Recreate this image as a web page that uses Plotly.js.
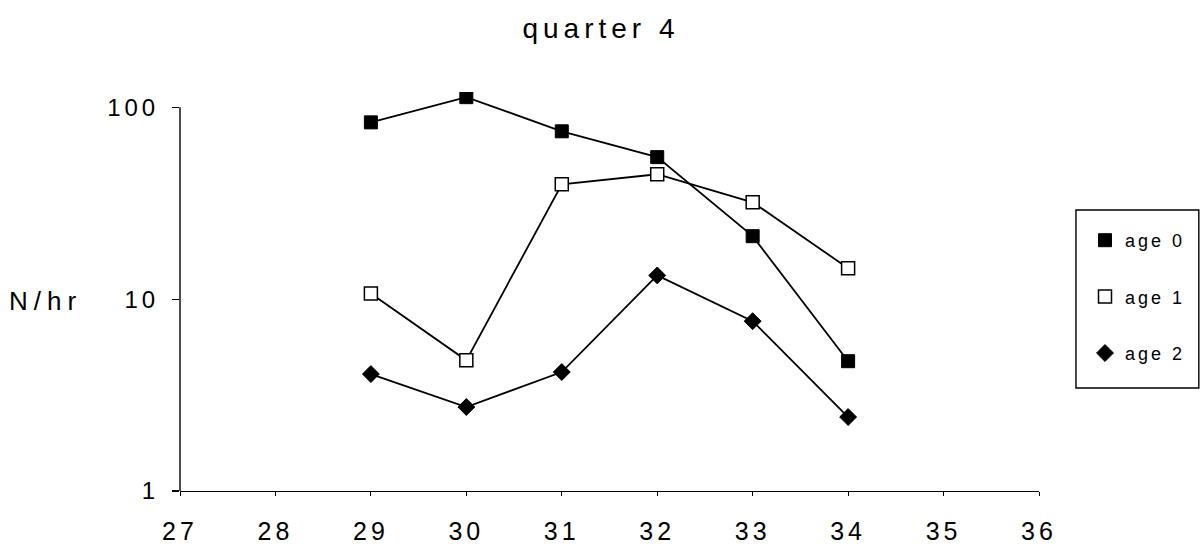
<!DOCTYPE html>
<html>
<head>
<meta charset="utf-8">
<script src="https://cdn.plot.ly/plotly-3.0.1.min.js"></script>
<style>
html,body{margin:0;padding:0;background:#fff;}
#chart{width:1202px;height:551px;}
.gtitle{letter-spacing:5px;}
.xtick text{letter-spacing:4px;}
.ytick text{letter-spacing:4px;}
.legendtext{letter-spacing:3px;}
.annotation-text{letter-spacing:6px;}
</style>
</head>
<body>
<div id="chart"></div>
<script>
const sections = [29, 30, 31, 32, 33, 34];
const age0 = [83.5, 113, 75, 55, 21.3, 4.75];
const age1 = [10.7, 4.8, 39.7, 44.8, 32, 14.5];
const age2 = [4.07, 2.74, 4.17, 13.3, 7.68, 2.43];
const xTicks = [27, 28, 29, 30, 31, 32, 33, 34, 35, 36];
const yTicks = [1, 10, 100];
const seriesNames = ['age 0', 'age 1', 'age 2'];

const lineStyle = {color: '#000', width: 1.8};
const markers = [
  {symbol: 'square', size: 13, color: '#000', line: {color: '#000', width: 1}},
  {symbol: 'square', size: 13, color: '#fff', line: {color: '#000', width: 1.5}},
  {symbol: 'diamond', size: 13, color: '#000', line: {color: '#000', width: 1}}
];
const series = [age0, age1, age2];

const traces = [];
series.forEach((ys, i) => {
  traces.push({x: sections, y: ys, type: 'scatter', mode: 'lines+markers',
    line: lineStyle, marker: markers[i], showlegend: false});
});
series.forEach((ys, i) => {
  traces.push({x: [null], y: [null], type: 'scatter', mode: 'markers',
    name: seriesNames[i], marker: markers[i], legendgroup: 'g' + i, showlegend: true});
});

const font = '"Liberation Sans", Arial, Helvetica, sans-serif';
const W = 1202, H = 551, L = 180, R = 162, B = 60, T = 92;
const pw = W - L - R, ph = H - T - B;
const yTop = 2.08;
const px = v => (v - L) / pw;        // pixel x -> paper
const py = v => (H - B - v) / ph;    // pixel y -> paper

const layout = {
  width: W, height: H,
  paper_bgcolor: '#fff', plot_bgcolor: '#fff',
  margin: {l: L, r: R, t: T, b: B},
  font: {family: font, color: '#000'},
  title: {text: 'quarter 4', font: {size: 28, family: font, color: '#000'},
    x: 601 / W, xanchor: 'center', y: 1 - 28 / H, yanchor: 'middle'},
  xaxis: {range: [27, 36], tickvals: xTicks, ticktext: xTicks.map(String),
    showgrid: false, zeroline: false, showline: true, linecolor: '#000', linewidth: 1.4,
    ticks: 'outside', ticklen: 4, tickcolor: '#000', tickwidth: 1,
    tickfont: {size: 25, family: font, color: '#000'}, ticklabelstandoff: 14},
  yaxis: {type: 'log', range: [0, yTop], tickvals: yTicks, ticktext: yTicks.map(String),
    showgrid: false, zeroline: false, showline: false,
    ticks: 'outside', ticklen: 7, tickcolor: '#000', tickwidth: 1.2,
    tickfont: {size: 24, family: font, color: '#000'}, ticklabelstandoff: 8},
  shapes: [
    {type: 'line', xref: 'paper', yref: 'y', x0: 0, x1: 0,
      y0: yTicks[0], y1: yTicks[yTicks.length - 1],
      line: {color: '#000', width: 1.4}},
    {type: 'rect', xref: 'paper', yref: 'paper', x0: px(1077), x1: px(1200), y0: py(388), y1: py(210),
      line: {color: '#000', width: 1.4}, fillcolor: 'rgba(0,0,0,0)'}
  ],
  showlegend: true,
  legend: {x: px(1085), y: py(222), xanchor: 'left', yanchor: 'top',
    bgcolor: 'rgba(0,0,0,0)', borderwidth: 0,
    font: {size: 18, family: font, color: '#000'}, traceorder: 'grouped', tracegroupgap: 30,
    itemwidth: 30},
  annotations: [{text: 'N/hr', xref: 'paper', yref: 'paper', x: px(7), y: py(301),
    xanchor: 'left', yanchor: 'middle', showarrow: false,
    font: {size: 26, family: font, color: '#000'}}]
};

Plotly.newPlot('chart', traces, layout, {displayModeBar: false, staticPlot: true});
</script>
</body>
</html>
